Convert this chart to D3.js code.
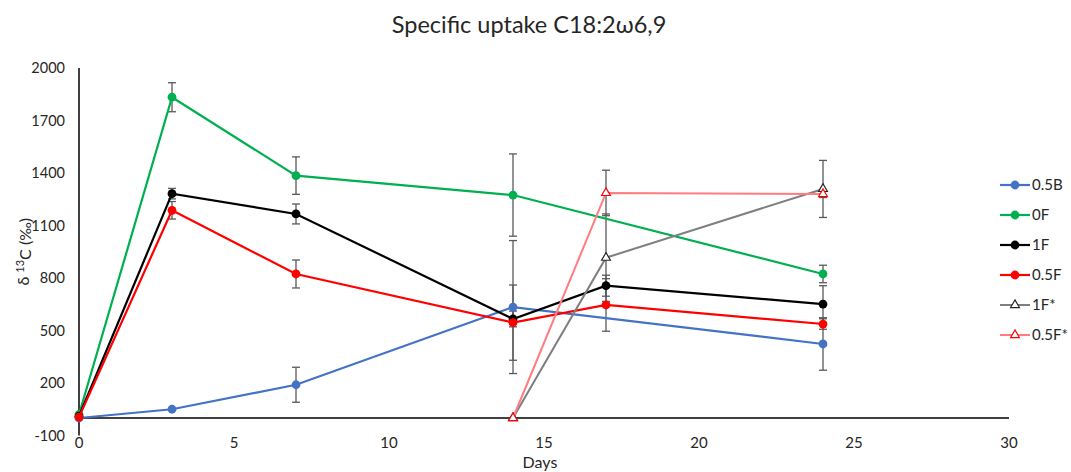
<!DOCTYPE html>
<html><head><meta charset="utf-8">
<script src="https://cdn.jsdelivr.net/npm/d3@7"></script>
<style>body{margin:0;background:#fff}svg{display:block}text{font-family:Lato,"Open Sans",sans-serif;fill:#262626}</style>
</head><body><svg id="c" width="1071" height="472"></svg>
<script>
const title = "Specific uptake C18:2ω6,9";
const xTicks = [0,5,10,15,20,25,30];
const yTicks = [-100,200,500,800,1100,1400,1700,2000];
const seriesNames = ["0.5B","0F","1F","0.5F","1F*","0.5F*"];
const days_05B = [0,3,7,14,24];
const vals_05B = [0,50,190,634,423];
const err_05B  = [0,0,100,380,150];
const days_0F = [0,3,7,14,24];
const vals_0F = [20,1833,1385,1274,823];
const err_0F  = [0,83,107,235,50];
const days_1F = [0,3,7,14,17,24];
const vals_1F = [10,1282,1166,566,756,651];
const err_1F  = [0,30,57,45,60,105];
const days_05F = [0,3,7,14,17,24];
const vals_05F = [5,1187,823,545,646,537];
const err_05F  = [0,50,80,215,150,30];
const days_1Fs = [14,17,24];
const vals_1Fs = [0,916,1309];
const err_1Fs  = [0,250,163];
const days_05Fs = [14,17,24];
const vals_05Fs = [0,1286,1280];
const err_05Fs  = [0,130,20];

const series = [
  {name:"0.5B", d:days_05B, v:vals_05B, e:err_05B, color:"#4472C4", w:2.2, marker:"circle"},
  {name:"0F", d:days_0F, v:vals_0F, e:err_0F, color:"#00B050", w:2.2, marker:"circle"},
  {name:"1F", d:days_1F, v:vals_1F, e:err_1F, color:"#000000", w:2.2, marker:"circle"},
  {name:"0.5F", d:days_05F, v:vals_05F, e:err_05F, color:"#FF0000", w:2.2, marker:"circle"},
  {name:"1F*", d:days_1Fs, v:vals_1Fs, e:err_1Fs, color:"#7F7F7F", w:2, marker:"tri", mcolor:"#262626"},
  {name:"0.5F*", d:days_05Fs, v:vals_05Fs, e:err_05Fs, color:"#FF7C80", w:2, marker:"tri", mcolor:"#FF0000"}
];

const svg = d3.select("#c");
const x = d3.scaleLinear().domain([0,30]).range([79,1009]);
const y = d3.scaleLinear().domain([-100,2000]).range([435.5,68]);

svg.append("text").attr("x",529).attr("y",33).attr("text-anchor","middle")
  .style("font-size","23.5px").text(title);

// axes lines
svg.append("line").attr("x1",x(0)).attr("x2",x(30)).attr("y1",y(0)).attr("y2",y(0))
  .attr("stroke","#000").attr("stroke-width",1.5);
svg.append("line").attr("x1",x(0)).attr("x2",x(0)).attr("y1",y(-100)).attr("y2",y(2000))
  .attr("stroke","#000").attr("stroke-width",1.5);

// tick labels
svg.append("g").selectAll("text").data(yTicks).join("text")
  .attr("x",65).attr("y",d=>y(d)).attr("dy","0.35em").attr("text-anchor","end")
  .style("font-size","14.5px").text(d=>d);
svg.append("g").selectAll("text").data(xTicks).join("text")
  .attr("x",d=>x(d)).attr("y",y(-100)).attr("dy","0.8em").attr("text-anchor","middle")
  .style("font-size","15px").text(d=>d);

svg.append("text").attr("x",(x(0)+x(30))/2-4).attr("y",468).attr("text-anchor","middle")
  .style("font-size","16px").text("Days");
const yl = svg.append("text").attr("transform",`translate(29,${y(950)}) rotate(-90)`)
  .attr("text-anchor","middle").style("font-size","16px");
yl.append("tspan").text("δ ");
yl.append("tspan").attr("dy","-0.45em").style("font-size","11px").text("13");
yl.append("tspan").attr("dy","0.45em").text("C (‰)");

const line = d3.line().x(d=>x(d[0])).y(d=>y(d[1]));
const tri = d3.symbol().type(d3.symbolTriangle).size(34);

// error bars
series.forEach(s=>{
  const g = svg.append("g").attr("stroke","#595959").attr("stroke-width",1.3);
  s.d.forEach((dd,i)=>{
    if(!s.e[i]) return;
    const cx = x(dd), y1 = y(s.v[i]+s.e[i]), y2 = y(s.v[i]-s.e[i]);
    g.append("line").attr("x1",cx).attr("x2",cx).attr("y1",y1).attr("y2",y2);
    g.append("line").attr("x1",cx-4).attr("x2",cx+4).attr("y1",y1).attr("y2",y1);
    g.append("line").attr("x1",cx-4).attr("x2",cx+4).attr("y1",y2).attr("y2",y2);
  });
});

// lines and markers
series.forEach(s=>{
  const pts = s.d.map((dd,i)=>[dd,s.v[i]]);
  svg.append("path").datum(pts).attr("d",line).attr("fill","none")
    .attr("stroke",s.color).attr("stroke-width",s.w);
  const g = svg.append("g");
  pts.forEach(p=>{
    if(s.marker==="circle"){
      g.append("circle").attr("cx",x(p[0])).attr("cy",y(p[1])).attr("r",4.4).attr("fill",s.color);
    } else {
      g.append("path").attr("d",tri).attr("transform",`translate(${x(p[0])},${y(p[1])})`)
        .attr("fill","#fff").attr("stroke",s.mcolor).attr("stroke-width",1.2);
    }
  });
});

// legend
const lg = svg.append("g");
series.forEach((s,i)=>{
  const ly = 185 + i*30;
  lg.append("line").attr("x1",1000).attr("x2",1030).attr("y1",ly).attr("y2",ly)
    .attr("stroke",s.color).attr("stroke-width",s.w);
  if(s.marker==="circle"){
    lg.append("circle").attr("cx",1015).attr("cy",ly).attr("r",4.4).attr("fill",s.color);
  } else {
    lg.append("path").attr("d",tri).attr("transform",`translate(1015,${ly})`)
      .attr("fill","#fff").attr("stroke",s.mcolor).attr("stroke-width",1.2);
  }
  lg.append("text").attr("x",1032).attr("y",ly).attr("dy","0.35em")
    .style("font-size","15px").text(s.name);
});
</script></body></html>
